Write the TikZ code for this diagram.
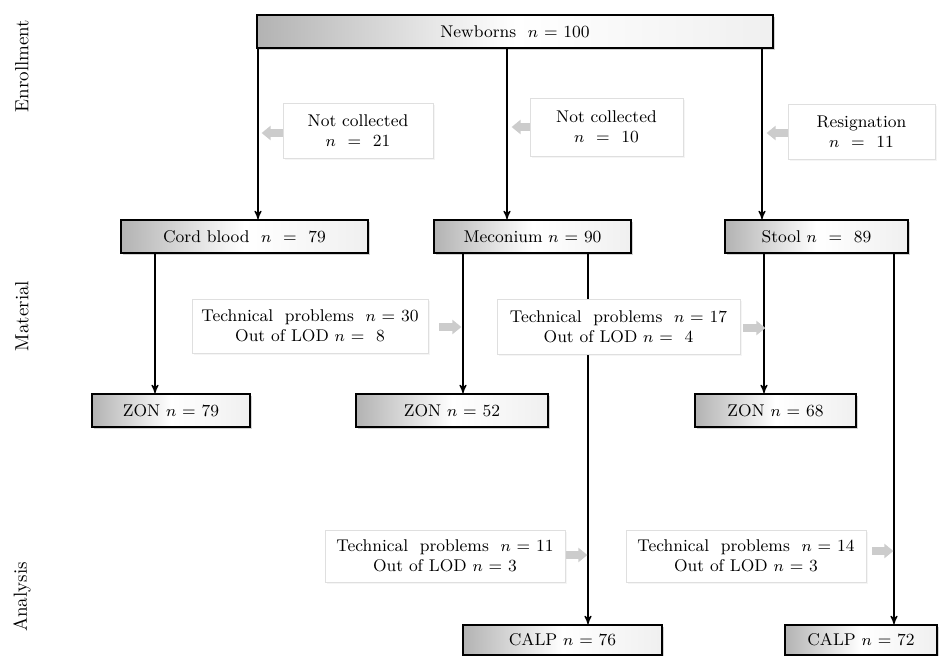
\documentclass[tikz,border=0pt]{standalone}
\usepackage{tikz}
\usetikzlibrary{arrows,arrows.meta,shadows}

\begin{document}
\begin{tikzpicture}[->,>=stealth',semithick,x=0.5pt,y=-0.5pt,
  font=\fontsize{8.5}{10}\selectfont,
  main box/.style={rectangle,draw,thick,inner sep=0pt,minimum height=16.5pt,
    left color=gray!60,right color=gray!12,middle color=white,
    drop shadow={opacity=0.35,shadow xshift=1pt,shadow yshift=-1pt}},
  side box/.style={rectangle,draw=gray!25,thin,fill=white,align=center,inner sep=0pt,
    drop shadow={opacity=0.08,shadow xshift=0.8pt,shadow yshift=-0.8pt}},
  gray arrow/.style={-{Triangle[width=7pt,length=4.5pt]},line width=4pt,draw=gray!40},
  stage/.style={rotate=90,font=\fontsize{9.5}{11}\selectfont}]
  \useasboundingbox (0,0) rectangle (944,655);

  % stages
  \node[stage] (enroll) at (22,66) {Enrollment};
  \node[stage] (material) at (22,316) {Material};
  \node[stage] (analysis) at (22,597) {Analysis};

  % main boxes
  \node[main box,minimum width=258pt] (newborns) at (515,31.5) {Newborns \ $n$ = 100};
  \node[main box,minimum width=123.5pt] (cord) at (244.5,236.5) {Cord blood \ $n$ \ = \ 79};
  \node[main box,minimum width=98.5pt] (meconium) at (532.5,236.5) {Meconium $n$ = 90};
  \node[main box,minimum width=91.5pt] (stool) at (816.5,236.5) {Stool $n$ \ = \ 89};
  \node[main box,minimum width=79pt] (zon1) at (171,410.5) {ZON $n$ = 79};
  \node[main box,minimum width=96pt] (zon2) at (452,410.5) {ZON $n$ = 52};
  \node[main box,minimum width=80.5pt] (zon3) at (775.5,410.5) {ZON $n$ = 68};
  \node[main box,minimum width=99.5pt,minimum height=15pt] (calp1) at (562.5,640) {CALP $n$ = 76};
  \node[main box,minimum width=76pt,minimum height=15pt] (calp2) at (861,640) {CALP $n$ = 72};

  % line positions
  \coordinate (e1) at (258,0);
  \coordinate (e2) at (507,0);
  \coordinate (e3) at (762,0);
  \coordinate (m1) at (155,0);
  \coordinate (m2) at (463,0);
  \coordinate (m3) at (588,0);
  \coordinate (m4) at (764,0);
  \coordinate (m5) at (894,0);

  \draw (newborns.south -| e1) -- (cord.north -| e1);
  \draw (newborns.south -| e2) -- (meconium.north -| e2);
  \draw (newborns.south -| e3) -- (stool.north -| e3);
  \draw (cord.south -| m1) -- (zon1.north -| m1);
  \draw (meconium.south -| m2) -- (zon2.north -| m2);
  \draw (meconium.south -| m3) -- (calp1.north -| m3);
  \draw (stool.south -| m4) -- (zon3.north -| m4);
  \draw (stool.south -| m5) -- (calp2.north -| m5);

  % exclusions
  \node[side box,minimum width=75pt,minimum height=27.5pt] (notcoll1) at (358,130.5) {Not collected\\$n$ \ = \ 21};
  \node[side box,minimum width=76.5pt,minimum height=29pt] (notcoll2) at (606.5,127) {Not collected\\$n$ \ = \ 10};
  \node[side box,minimum width=73.5pt,minimum height=27.5pt] (resign) at (861.5,131.5) {Resignation\\$n$ \ = \ 11};
  \node[side box,minimum width=118pt,minimum height=27pt] (tech1) at (310,326) {Technical \ problems \ $n$ = 30\\Out of LOD $n$ = \ 8};
  \node[side box,minimum width=121.5pt,minimum height=27.5pt] (tech2) at (618.5,326.5) {Technical \ problems \ $n$ = 17\\Out of LOD $n$ = \ 4};
  \node[side box,minimum width=120pt,minimum height=26pt] (tech3) at (445,556) {Technical \ problems \ $n$ = 11\\Out of LOD $n$ = 3};
  \node[side box,minimum width=120pt,minimum height=26pt] (tech4) at (746,556) {Technical \ problems \ $n$ = 14\\Out of LOD $n$ = 3};

  \draw[gray arrow] (notcoll1.west) ++(0,2.5) -- ++(-21,0);
  \draw[gray arrow] (notcoll2.west) -- ++(-18,0);
  \draw[gray arrow] (resign.west) ++(0,1.5) -- ++(-21,0);
  \draw[gray arrow] (tech1.east) ++(11,1) -- ++(22,0);
  \draw[gray arrow] (tech2.east) ++(3,1.5) -- ++(22,0);
  \draw[gray arrow] (tech3.east) ++(1,-1) -- ++(21,0);
  \draw[gray arrow] (tech4.east) ++(6,-5) -- ++(21,0);
\end{tikzpicture}
\end{document}
